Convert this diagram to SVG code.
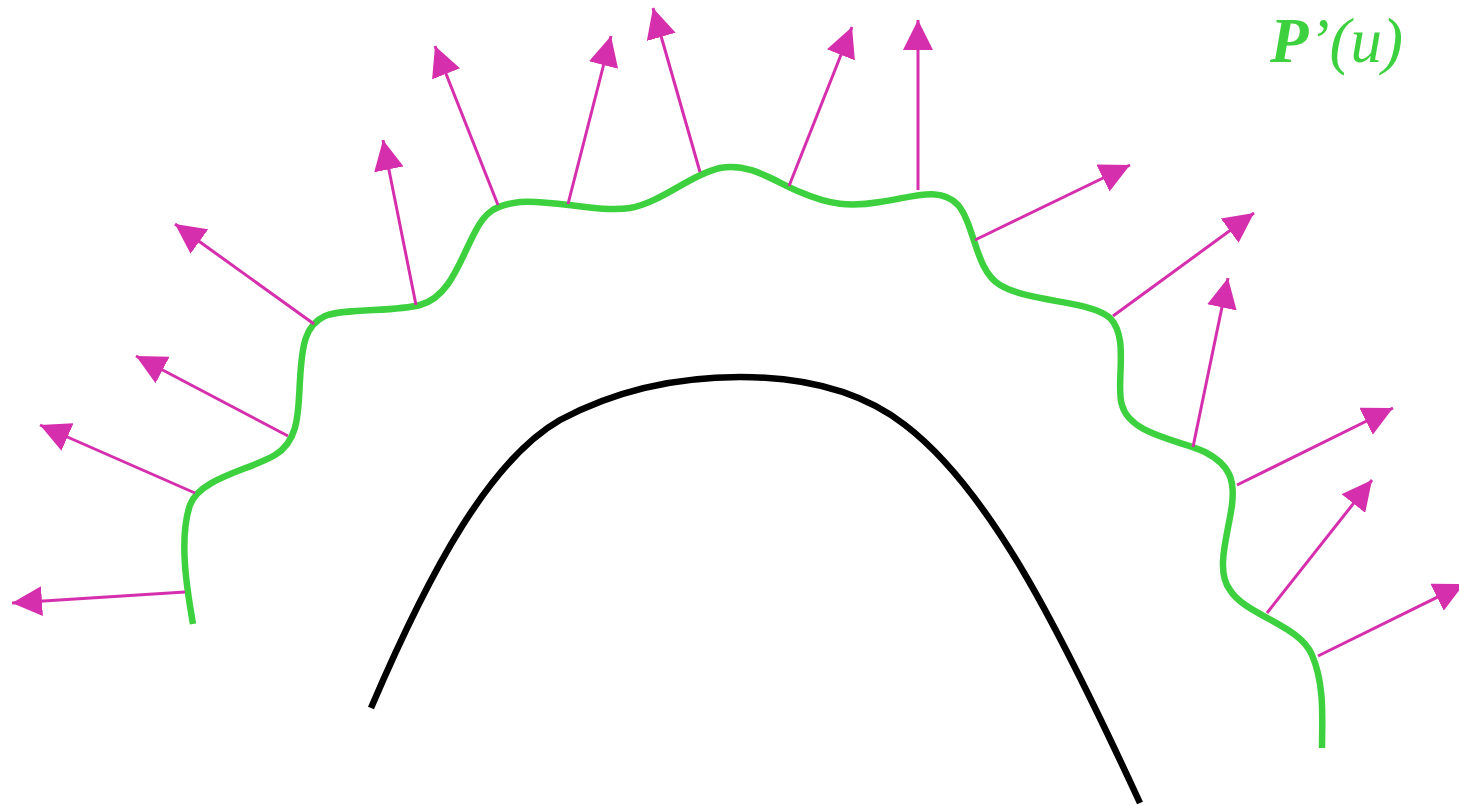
<svg xmlns="http://www.w3.org/2000/svg" width="1459" height="805" viewBox="0 0 1459 805">
<style>
.n{stroke:#d52fad;stroke-width:3;fill:none;marker-end:url(#ah)}
.g{stroke:#3dd13f;stroke-width:6.5;fill:none}
.k{stroke:#000;stroke-width:6.5;fill:none}
.lbl{font-family:"Liberation Serif",serif;font-style:italic;font-size:63px;fill:#3dd13f}
</style>
<defs>
<marker id="ah" markerUnits="userSpaceOnUse" markerWidth="30" markerHeight="30" viewBox="0 0 26 26" refX="26" refY="13" orient="auto">
<path d="M0,0 L26,13 L0,26 Z" fill="#d52fad"/>
</marker>
</defs>
<rect width="1459" height="805" fill="#fff"/>
<g id="base-curve"><path class="k" d="M371,708 C430,570 490,460 560,420 C620,388 680,377 740,377 C800,377 860,390 905,425 C990,490 1060,630 1140,803"/></g>
<g id="offset-curve"><path class="g" d="M193,624 C188,595 178,540 190,505 C200,478 250,470 275,455 C300,440 298,410 300,380 C302,345 305,325 325,316 C345,308 395,312 420,305 C450,297 460,260 475,232 C485,212 495,205 520,202 C550,199 600,213 630,208 C660,203 690,175 720,168 C750,162 775,182 800,192 C830,205 850,207 880,202 C910,198 940,185 958,205 C975,225 975,270 1000,285 C1030,303 1090,300 1110,318 C1130,338 1115,385 1122,405 C1130,435 1180,440 1205,452 C1230,465 1235,480 1232,505 C1228,535 1215,570 1230,590 C1245,615 1300,625 1312,655 C1325,685 1322,720 1322,748"/></g>
<g id="normals">
<path class="n" d="M185,592 L12,603"/>
<path class="n" d="M195,493 L40,425"/>
<path class="n" d="M288,436 L136,356"/>
<path class="n" d="M314,324 L175,224"/>
<path class="n" d="M416,305 L383,140"/>
<path class="n" d="M498,205 L435,46"/>
<path class="n" d="M568,204 L611,36"/>
<path class="n" d="M700,172 L653,8"/>
<path class="n" d="M789,186 L852,27"/>
<path class="n" d="M918,190 L918,20"/>
<path class="n" d="M975,240 L1130,165"/>
<path class="n" d="M1113,316 L1254,213"/>
<path class="n" d="M1193,447 L1228,278"/>
<path class="n" d="M1237,485 L1393,408"/>
<path class="n" d="M1267,613 L1372,480"/>
<path class="n" d="M1318,656 L1464,584"/>
</g>
<g id="label"><text class="lbl" x="1270" y="62"><tspan font-weight="bold">P</tspan>’(u)</text></g>
</svg>
